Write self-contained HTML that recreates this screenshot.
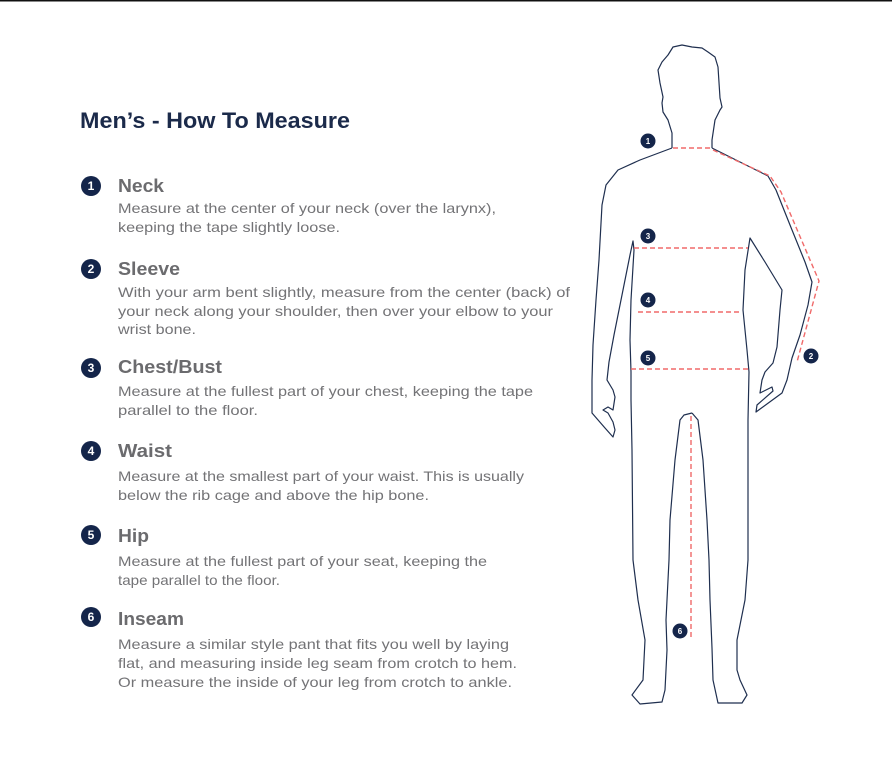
<!DOCTYPE html>
<html><head><meta charset="utf-8"><style>
html,body{margin:0;padding:0;background:#fff;}
svg{display:block;}
.t{font-family:"Liberation Sans",sans-serif;}
.h{font-family:"Liberation Sans",sans-serif;font-weight:bold;font-size:18px;fill:#6b6b6e;}
.d{font-family:"Liberation Sans",sans-serif;font-size:14px;fill:#737376;}
.bn{font-family:"Liberation Sans",sans-serif;font-weight:bold;font-size:12px;fill:#fff;text-anchor:middle;}
.bs{font-family:"Liberation Sans",sans-serif;font-weight:bold;font-size:8px;fill:#fff;text-anchor:middle;}
</style></head><body>
<svg width="892" height="757" viewBox="0 0 892 757" xmlns="http://www.w3.org/2000/svg">
<rect x="0" y="0" width="892" height="1.5" fill="#111"/>
<text class="t" x="80" y="128" font-size="22" font-weight="bold" fill="#1b2a4a" textLength="270" lengthAdjust="spacingAndGlyphs">Men’s - How To Measure</text>

<g fill="#14254a">
<circle cx="91" cy="186" r="10"/><circle cx="91" cy="269" r="10"/><circle cx="91" cy="368" r="10"/>
<circle cx="91" cy="451" r="10"/><circle cx="91" cy="535" r="10"/><circle cx="91" cy="617" r="10"/>
</g>
<text class="bn" x="91" y="190">1</text><text class="bn" x="91" y="273">2</text><text class="bn" x="91" y="372">3</text>
<text class="bn" x="91" y="455">4</text><text class="bn" x="91" y="539">5</text><text class="bn" x="91" y="621">6</text>

<text class="h" x="118" y="192" textLength="46" lengthAdjust="spacingAndGlyphs">Neck</text>
<text class="d" x="118" y="213" textLength="378" lengthAdjust="spacingAndGlyphs">Measure at the center of your neck (over the larynx),</text>
<text class="d" x="118" y="232" textLength="222" lengthAdjust="spacingAndGlyphs">keeping the tape slightly loose.</text>

<text class="h" x="118" y="275" textLength="62" lengthAdjust="spacingAndGlyphs">Sleeve</text>
<text class="d" x="118" y="297" textLength="452" lengthAdjust="spacingAndGlyphs">With your arm bent slightly, measure from the center (back) of</text>
<text class="d" x="118" y="316" textLength="435" lengthAdjust="spacingAndGlyphs">your neck along your shoulder, then over your elbow to your</text>
<text class="d" x="118" y="334" textLength="78" lengthAdjust="spacingAndGlyphs">wrist bone.</text>

<text class="h" x="118" y="373" textLength="104" lengthAdjust="spacingAndGlyphs">Chest/Bust</text>
<text class="d" x="118" y="396" textLength="415" lengthAdjust="spacingAndGlyphs">Measure at the fullest part of your chest, keeping the tape</text>
<text class="d" x="118" y="415" textLength="140" lengthAdjust="spacingAndGlyphs">parallel to the floor.</text>

<text class="h" x="118" y="457" textLength="54" lengthAdjust="spacingAndGlyphs">Waist</text>
<text class="d" x="118" y="481" textLength="406" lengthAdjust="spacingAndGlyphs">Measure at the smallest part of your waist. This is usually</text>
<text class="d" x="118" y="500" textLength="311" lengthAdjust="spacingAndGlyphs">below the rib cage and above the hip bone.</text>

<text class="h" x="118" y="542" textLength="31" lengthAdjust="spacingAndGlyphs">Hip</text>
<text class="d" x="118" y="566" textLength="369" lengthAdjust="spacingAndGlyphs">Measure at the fullest part of your seat, keeping the</text>
<text class="d" x="118" y="585" textLength="162" lengthAdjust="spacingAndGlyphs">tape parallel to the floor.</text>

<text class="h" x="118" y="625" textLength="66" lengthAdjust="spacingAndGlyphs">Inseam</text>
<text class="d" x="118" y="649" textLength="391" lengthAdjust="spacingAndGlyphs">Measure a similar style pant that fits you well by laying</text>
<text class="d" x="118" y="668" textLength="399" lengthAdjust="spacingAndGlyphs">flat, and measuring inside leg seam from crotch to hem.</text>
<text class="d" x="118" y="687" textLength="394" lengthAdjust="spacingAndGlyphs">Or measure the inside of your leg from crotch to ankle.</text>

<g fill="none" stroke="#1f2f4f" stroke-width="1.2" stroke-linejoin="round">
<path d="M672,148 L672,133 L668,120 L663,112 L662,103 L663,97 L660,83 L658,70 L662,62 L668,55 L673,47 L682,45 L692,47 L702,48 L708,52 L715,57 L718,67 L720,98 L722,107 L720,110 L715,120 L712,140 L712,148"/>
<path d="M672,148 L640,160 L618,170 L606,185 L602,205 L599,260 L596,300 L593,345 L592,380 L592,413 L605,428 L613,437 L615,430 L613,422 L608,413 L603,410 L608,407 L613,410 L615,397 L613,390 L607,380 L609,362 L614,335 L622,295 L630,255 L633,241 L634,250 L631,300 L630,340 L631,372 L631,400 L632,450 L633,560 L638,600 L645,640 L643,680 L632,695 L640,704 L662,702 L665,690 L667,650 L666,620 L669,560 L670,520 L675,460 L680,420 L684,415 L692,413"/>
<path d="M712,148 L740,162 L768,176 L776,190 L790,225 L805,262 L812,282 L808,305 L800,335 L792,358 L787,380 L782,393 L756,412 L757,405 L773,391 L772,387 L760,393 L762,380 L765,372 L773,363 L777,347 L780,310 L782,290 L765,262 L750,238 L745,270 L743,310 L747,350 L749,372 L748,420 L748,560 L745,600 L737,640 L737,670 L740,680 L747,695 L742,703 L718,703 L713,680 L712,648 L710,600 L709,560 L707,520 L703,460 L698,420 L692,413"/>
</g>
<g fill="none" stroke="#f06a6a" stroke-width="1.4" stroke-dasharray="5,3">
<path d="M673,148 L711,148"/>
<path d="M713,150 L770,176 L781,192 L819,281 L797,362"/>
<path d="M634,248 L748,248"/>
<path d="M638,312 L742,312"/>
<path d="M631,369 L750,369"/>
<path d="M691,416 L691,640"/>
</g>
<g fill="#14254a">
<circle cx="648" cy="141" r="7.5"/><circle cx="648" cy="236" r="7.5"/><circle cx="648" cy="300" r="7.5"/>
<circle cx="648" cy="358" r="7.5"/><circle cx="811" cy="356" r="7.5"/><circle cx="680" cy="631" r="7.5"/>
</g>
<text class="bs" x="648" y="144">1</text><text class="bs" x="648" y="239">3</text><text class="bs" x="648" y="303">4</text>
<text class="bs" x="648" y="361">5</text><text class="bs" x="811" y="359">2</text><text class="bs" x="680" y="634">6</text>
</svg>
</body></html>
